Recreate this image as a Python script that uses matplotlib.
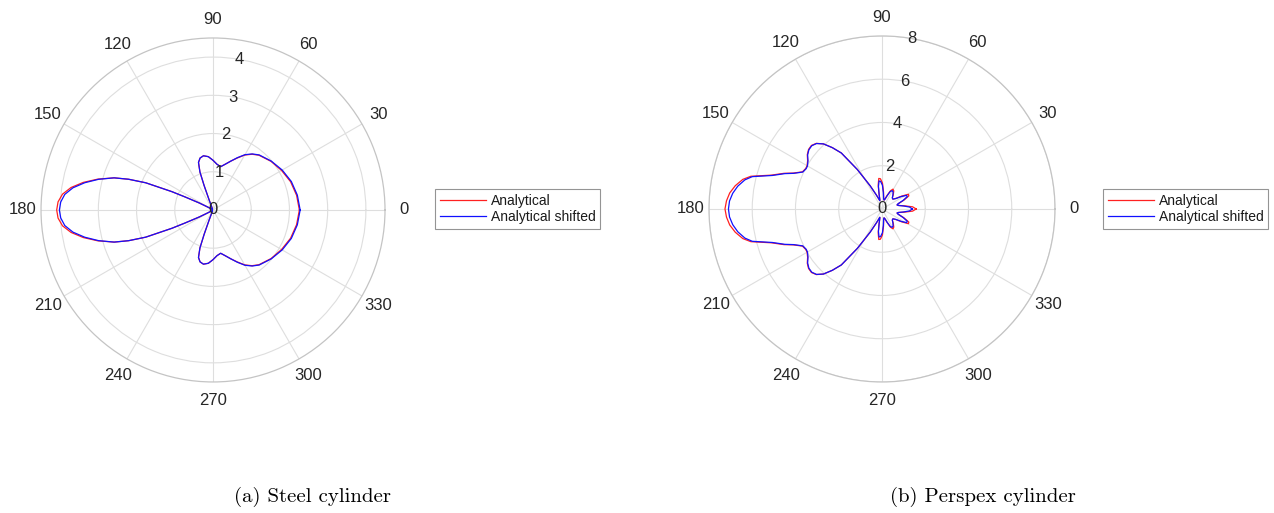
import numpy as np
import matplotlib.pyplot as plt

plt.rcParams['font.family'] = ['Liberation Sans', 'DejaVu Sans']

# half pattern (0..180 deg), lower half mirrors the upper half
ang_steel = [0, 10, 20, 30, 40, 50, 55, 60, 65, 70, 75, 80, 85, 90, 95, 100, 104, 107, 109, 110,
             111, 113, 120, 130, 140, 148, 151, 153, 155, 156, 158, 160, 162, 165, 168, 171, 174, 177, 180]
r_steel = [2.26, 2.22, 2.16, 2.07, 1.98, 1.87, 1.78, 1.66, 1.50, 1.36, 1.24, 1.15, 1.20, 1.30, 1.40, 1.44, 1.40, 1.30, 1.05, 0.68,
           0.30, 0.08, 0.03, 0.02, 0.02, 0.05, 0.15, 0.40, 0.80, 1.18, 1.90, 2.35, 2.72, 3.12, 3.47, 3.76, 3.96, 4.06, 4.09]
r_steel_shift = [2.28, 2.24, 2.18, 2.09, 1.99, 1.88, 1.79, 1.67, 1.51, 1.36, 1.24, 1.15, 1.20, 1.30, 1.40, 1.44, 1.40, 1.30, 1.05, 0.68,
                 0.30, 0.08, 0.03, 0.02, 0.02, 0.05, 0.15, 0.40, 0.80, 1.18, 1.90, 2.35, 2.72, 3.10, 3.43, 3.71, 3.90, 3.99, 4.02]

ang_persp = [0, 4, 8, 12, 15, 18, 22, 26, 29, 33, 37, 42, 47, 52, 57, 61, 65, 69, 73, 77, 81, 85, 89, 93, 96, 99,
             101, 103, 105, 108, 112, 117, 122, 126, 129, 132, 135, 138, 141, 144, 147, 150, 152, 155, 158, 160,
             163, 166, 168, 171, 174, 177, 180]
r_persp = [1.58, 1.42, 1.05, 0.78, 0.72, 0.80, 1.10, 1.38, 1.40, 1.10, 0.82, 0.68, 0.70, 0.85, 1.00, 1.05, 0.93, 0.68, 0.48, 0.42,
           0.50, 0.80, 1.20, 1.40, 1.42, 1.12, 0.72, 0.45, 0.40, 0.50, 0.70, 1.20, 2.15, 3.20, 3.65, 4.05, 4.29, 4.39, 4.37,
           4.27, 4.10, 4.00, 3.99, 4.06, 4.43, 4.82, 5.35, 6.25, 6.58, 6.87, 7.08, 7.20, 7.26]
r_persp_shift = [1.40, 1.28, 1.00, 0.78, 0.72, 0.78, 1.05, 1.30, 1.30, 1.05, 0.80, 0.68, 0.70, 0.82, 0.94, 0.97, 0.88, 0.65, 0.48, 0.42,
                 0.48, 0.75, 1.10, 1.28, 1.30, 1.05, 0.70, 0.45, 0.40, 0.50, 0.70, 1.20, 2.15, 3.20, 3.65, 4.05, 4.28, 4.37, 4.35,
                 4.25, 4.08, 3.98, 3.97, 4.04, 4.40, 4.78, 5.30, 6.18, 6.48, 6.75, 6.94, 7.06, 7.10]

theta_ticks = list(range(0, 360, 30))
theta_labels = [str(t) for t in theta_ticks]


def full_circle(ang, r):
    ang = np.array(ang, dtype=float)
    r = np.array(r, dtype=float)
    th = np.concatenate([ang, 360 - ang[::-1][1:]])
    rr = np.concatenate([r, r[::-1][1:]])
    return np.deg2rad(th), rr


def polar_panel(rect, ang, r_a, r_b, rmax, rticks, lw):
    ax = fig.add_axes(rect, projection='polar')
    th, ra = full_circle(ang, r_a)
    _, rb = full_circle(ang, r_b)
    la, = ax.plot(th, ra, color='#ff2020', linewidth=lw, label='Analytical')
    lb, = ax.plot(th, rb, color='#1010ff', linewidth=lw, label='Analytical shifted')
    ax.set_ylim(0, rmax)
    ax.set_rticks(rticks)
    ax.set_yticklabels([])
    # MATLAB style r labels, centred on the ring at 80 deg
    for t in rticks:
        ax.text(np.deg2rad(80), t, str(t), ha='center', va='center', fontsize=12,
                color='#262626')
    ax.set_thetagrids(theta_ticks, theta_labels)
    ax.tick_params(axis='x', pad=3, labelsize=12, colors='#262626')
    ax.grid(True, color='#dedede', linewidth=0.8)
    ax.spines['polar'].set_color('#c4c4c4')
    ax.spines['polar'].set_linewidth(0.9)
    return ax, la, lb


fig = plt.figure(figsize=(12.74, 5.13), dpi=100)

ax1, a1, b1 = polar_panel([0.0322, 0.2554, 0.27, 0.6706], ang_steel, r_steel, r_steel_shift,
                          4.5, [0, 1, 2, 3, 4], 0.9)
ax2, a2, b2 = polar_panel([0.5565, 0.2554, 0.2716, 0.6745], ang_persp, r_persp, r_persp_shift,
                          8, [0, 2, 4, 6, 8], 0.9)

for handles, x0 in [((a1, b1), 435 / 1274), ((a2, b2), 1103 / 1274)]:
    leg = fig.legend(handles, [h.get_label() for h in handles], loc='center left',
                     bbox_to_anchor=(x0, 1 - 209 / 513), fontsize=10, frameon=True, fancybox=False,
                     handlelength=3.3, handletextpad=0.35, borderpad=0.35, labelspacing=0.12,
                     borderaxespad=0)
    leg.get_frame().set_edgecolor('#7a7a7a')
    leg.get_frame().set_linewidth(0.8)
    for t in leg.get_texts():
        t.set_color('#1a1a1a')

fig.text(313 / 1274, 1 - 497 / 513, '(a) Steel cylinder', ha='center', va='center',
         fontsize=15, family='cmr10')
fig.text(983 / 1274, 1 - 497 / 513, '(b) Perspex cylinder', ha='center', va='center',
         fontsize=15, family='cmr10')

plt.savefig('out.png', dpi=100)
plt.close()
